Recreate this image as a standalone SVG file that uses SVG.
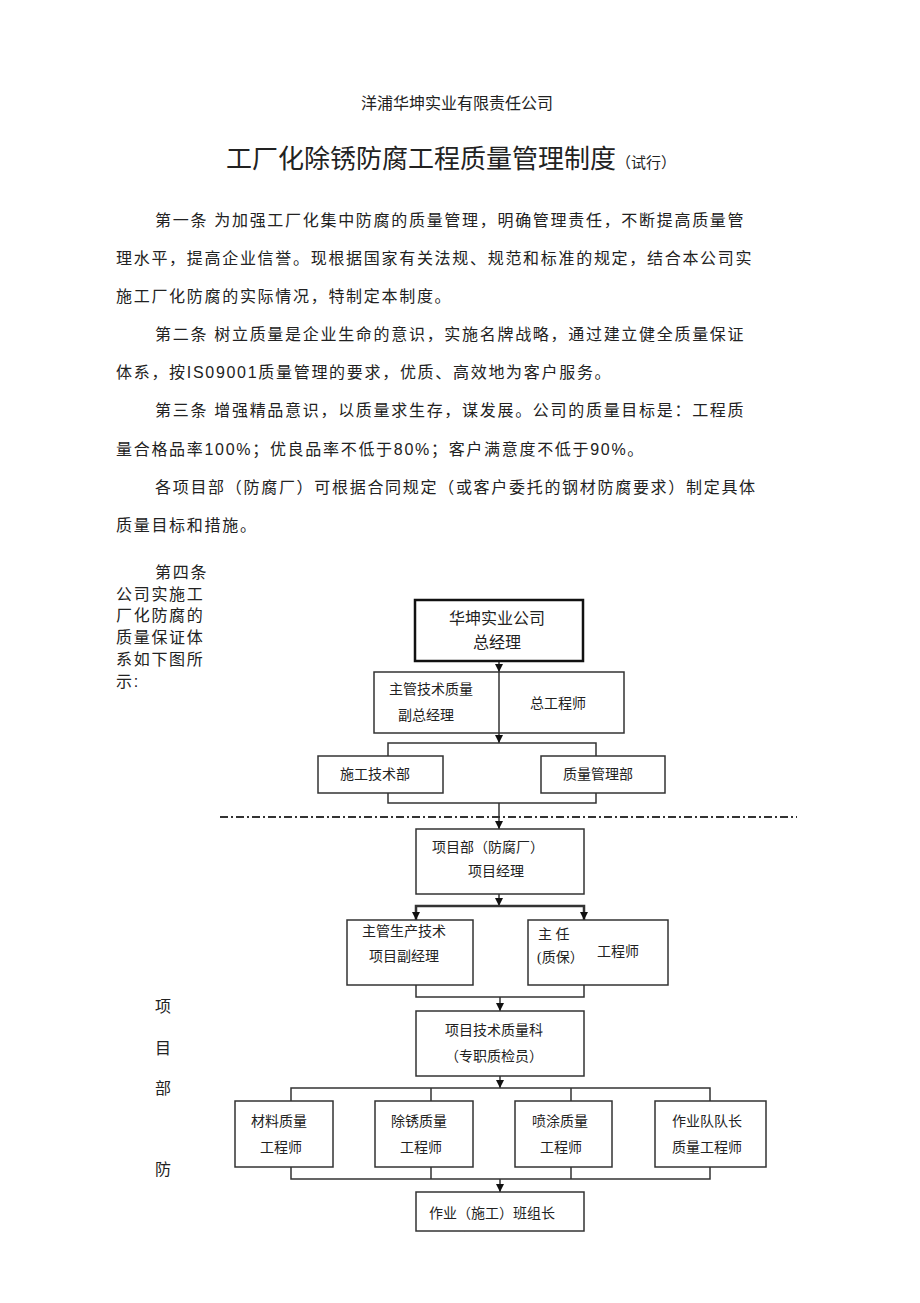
<svg xmlns="http://www.w3.org/2000/svg" width="920" height="1303" viewBox="0 0 920 1303">
<style>
text{font-family:"Liberation Sans","Noto Sans CJK SC",sans-serif;fill:#222}
.b{font-size:16px;letter-spacing:1.7px}
.n{font-size:14px;text-anchor:middle;font-family:"Liberation Serif","Noto Sans CJK SC",serif}
rect{fill:#fff;stroke:#333;stroke-width:1.5}
.c{fill:none;stroke:#333;stroke-width:1.5}
</style>
<defs><marker id="a" markerWidth="8" markerHeight="8" refX="8" refY="4" orient="auto" markerUnits="userSpaceOnUse"><path d="M0,0 L8,4 L0,8Z" fill="#111"/></marker></defs>
<rect x="0" y="0" width="920" height="1303" style="fill:#fff;stroke:none"/>
<text x="457" y="109" style="font-size:16px;text-anchor:middle">洋浦华坤实业有限责任公司</text>
<text x="226" y="168" style="font-size:26px">工厂化除锈防腐工程质量管理制度<tspan style="font-size:15px">（试行）</tspan></text>
<text x="155" y="226" class="b">第一条  为加强工厂化集中防腐的质量管理，明确管理责任，不断提高质量管</text>
<text x="116" y="264" class="b">理水平，提高企业信誉。现根据国家有关法规、规范和标准的规定，结合本公司实</text>
<text x="116" y="302" class="b">施工厂化防腐的实际情况，特制定本制度。</text>
<text x="155" y="340" class="b">第二条  树立质量是企业生命的意识，实施名牌战略，通过建立健全质量保证</text>
<text x="116" y="378" class="b">体系，按IS09001质量管理的要求，优质、高效地为客户服务。</text>
<text x="155" y="416" class="b">第三条  增强精品意识，以质量求生存，谋发展。公司的质量目标是：工程质</text>
<text x="116" y="455" class="b">量合格品率100%；优良品率不低于80%；客户满意度不低于90%。</text>
<text x="155" y="493" class="b">各项目部（防腐厂）可根据合同规定（或客户委托的钢材防腐要求）制定具体</text>
<text x="116" y="531" class="b">质量目标和措施。</text>
<text x="155" y="578" class="b">第四条</text>
<text x="116" y="600" class="b">公司实施工</text>
<text x="116" y="621" class="b">厂化防腐的</text>
<text x="116" y="643" class="b">质量保证体</text>
<text x="116" y="665" class="b">系如下图所</text>
<text x="116" y="687" class="b">示:</text>
<text x="155" y="1012" class="b">项</text>
<text x="155" y="1054" class="b">目</text>
<text x="155" y="1094" class="b">部</text>
<text x="155" y="1175" class="b">防</text>
<text x="460" y="1230" style="font-size:6px;text-anchor:middle">可编辑</text>
<g id="connectors">
<line x1="220" y1="817" x2="797" y2="817" style="stroke:#333;stroke-width:2;stroke-dasharray:8,3,2,3"/>
<path class="c" d="M499,661 V672" marker-end="url(#a)"/>
<path class="c" d="M499,672 V743" marker-end="url(#a)"/>
<path class="c" d="M388,756 V743 H596 V756 M388,793 V803 H596 V793"/>
<path class="c" d="M499,803 V829" marker-end="url(#a)"/>
<path class="c" d="M499,894 V906" marker-end="url(#a)"/>
<path class="c" d="M499,906 H416 V920" marker-end="url(#a)" style="stroke-width:2.5"/>
<path class="c" d="M499,906 H584 V920" marker-end="url(#a)" style="stroke-width:2.5"/>
<path class="c" d="M416,985 V997 H584 V985"/>
<path class="c" d="M500,997 V1011" marker-end="url(#a)"/>
<path class="c" d="M500,1076 V1088" marker-end="url(#a)"/>
<path class="c" d="M291,1101 V1088 H710 V1101 M431,1088 V1101 M571,1088 V1101"/>
<path class="c" d="M291,1167 V1179 H710 V1167 M431,1167 V1179 M571,1167 V1179"/>
<path class="c" d="M500,1179 V1192" marker-end="url(#a)"/>
</g>
<g id="n1"><rect x="415" y="600" width="168" height="61" style="stroke:#111;stroke-width:2.5"/><text class="n" x="497" y="624" style="font-size:16px">华坤实业公司</text><text class="n" x="497" y="648" style="font-size:16px">总经理</text></g>
<g id="n2"><rect x="374" y="672" width="250" height="61"/><text class="n" x="431" y="694">主管技术质量</text><text class="n" x="426" y="720">副总经理</text><text class="n" x="558" y="708">总工程师</text></g>
<line x1="499" y1="672" x2="499" y2="733" class="c"/>
<g id="n3"><rect x="318" y="756" width="125" height="37"/><text class="n" x="375" y="779">施工技术部</text></g>
<g id="n4"><rect x="541" y="756" width="124" height="37"/><text class="n" x="598" y="779">质量管理部</text></g>
<g id="n5"><rect x="416" y="829" width="168" height="65"/><text class="n" x="488" y="852">项目部（防腐厂）</text><text class="n" x="496" y="876">项目经理</text></g>
<g id="n6"><rect x="347" y="920" width="126" height="65"/><text class="n" x="404" y="936">主管生产技术</text><text class="n" x="404" y="961">项目副经理</text></g>
<g id="n7"><rect x="528" y="920" width="140" height="65"/><text x="538" y="939" style="font-size:14px;font-family:'Liberation Serif','Noto Sans CJK SC',serif">主  任</text><text x="537" y="962" style="font-size:14px;font-family:'Liberation Serif','Noto Sans CJK SC',serif">(质保）</text><text class="n" x="618" y="956">工程师</text></g>
<g id="n8"><rect x="416" y="1011" width="168" height="65"/><text class="n" x="494" y="1035">项目技术质量科</text><text class="n" x="494" y="1061">（专职质检员）</text></g>
<g id="n9"><rect x="235" y="1101" width="98" height="66"/><text class="n" x="279" y="1126">材料质量</text><text class="n" x="281" y="1152">工程师</text></g>
<g id="n10"><rect x="375" y="1101" width="98" height="66"/><text class="n" x="419" y="1126">除锈质量</text><text class="n" x="421" y="1152">工程师</text></g>
<g id="n11"><rect x="515" y="1101" width="97" height="66"/><text class="n" x="560" y="1126">喷涂质量</text><text class="n" x="561" y="1152">工程师</text></g>
<g id="n12"><rect x="655" y="1101" width="111" height="66"/><text class="n" x="707" y="1126">作业队队长</text><text class="n" x="707" y="1152">质量工程师</text></g>
<g id="n13"><rect x="416" y="1192" width="168" height="39"/><text class="n" x="492" y="1218">作业（施工）班组长</text></g>
</svg>
